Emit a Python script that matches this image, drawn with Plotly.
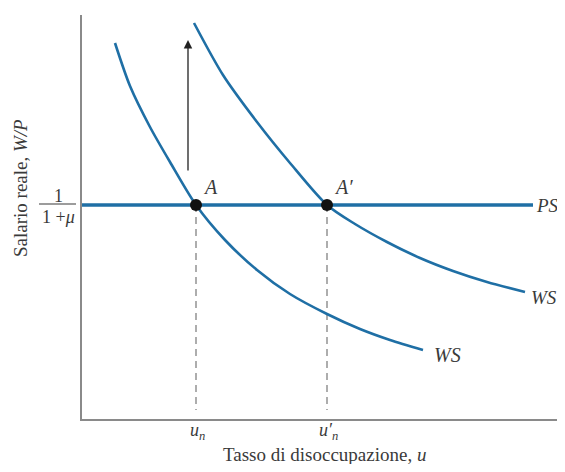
import plotly.graph_objects as go

# Data (arbitrary units: u on x, W/P on y)
ws1_u = [3.3, 4.8, 6.8, 8.8, 11.4, 14.3, 17.5, 20.8, 24.5, 27.8, 30.8, 34.1]
ws1_w = [37.6, 33.3, 29.2, 25.7, 21.4, 17.9, 14.9, 12.5, 10.5, 9.0, 7.9, 6.9]
ws2_u = [11.2, 14.1, 17.5, 20.8, 24.5, 27.3, 30.5, 33.8, 37.1, 40.5, 44.3]
ws2_w = [39.6, 34.4, 29.7, 25.6, 21.4, 19.5, 17.7, 16.1, 14.8, 13.7, 12.7]
ps_u = [0.0, 45.1]
ps_level = 21.4
eq_u = [11.4, 24.5]
eq_labels = ["A", "A′"]
tick_labels = ["<i>u<sub>n</sub></i>", "<i>u′<sub>n</sub></i>"]
arrow_u = 10.6
arrow_w = [24.7, 37.9]

XMAX, YMAX = 47.5, 40.4
BLUE = "#1f6fa5"
TXT = "#3a3a3a"
SERIF = "Liberation Serif, DejaVu Serif, serif"

fig = go.Figure()
for u in eq_u:
    fig.add_trace(go.Scatter(x=[u, u], y=[ps_level, 0.9], mode="lines",
                             line=dict(color="#777777", width=1.2, dash="7px,5px"),
                             hoverinfo="skip", showlegend=False))
fig.add_trace(go.Scatter(x=ps_u, y=[ps_level, ps_level], mode="lines",
                         line=dict(color=BLUE, width=3.5), showlegend=False))
fig.add_trace(go.Scatter(x=ws1_u, y=ws1_w, mode="lines", line_shape="spline",
                         line=dict(color=BLUE, width=2.6, smoothing=0.8), showlegend=False))
fig.add_trace(go.Scatter(x=ws2_u, y=ws2_w, mode="lines", line_shape="spline",
                         line=dict(color=BLUE, width=2.6, smoothing=0.8), showlegend=False))
fig.add_trace(go.Scatter(x=eq_u, y=[ps_level] * 2, mode="markers",
                         marker=dict(color="#111111", size=12), showlegend=False))

def txt(size):
    return dict(family=SERIF, size=size, color=TXT)

ann = []
for u, lab, dx in zip(eq_u, eq_labels, [14, 16]):
    ann.append(dict(x=u, y=ps_level, text=f"<i>{lab}</i>", showarrow=False,
                    xanchor="center", yanchor="middle", xshift=dx, yshift=18,
                    font=txt(20)))
for u, lab in zip(eq_u, tick_labels):
    ann.append(dict(x=u, y=0, text=lab, showarrow=False, xanchor="center",
                    yanchor="middle", xshift=1, yshift=-12, font=txt(18)))
ann.append(dict(x=arrow_u, y=arrow_w[1], ax=arrow_u, ay=arrow_w[0],
                xref="x", yref="y", axref="x", ayref="y", text="",
                showarrow=True, arrowhead=2, arrowsize=1.3, arrowwidth=1.3,
                arrowcolor="#222222"))
ann.append(dict(x=ps_u[1], y=ps_level, text="<i>PS</i>", showarrow=False,
                xanchor="left", yanchor="middle", xshift=1, font=txt(19)))
ann.append(dict(x=ws2_u[-1], y=ws2_w[-1], text="<i>WS</i>", showarrow=False,
                xanchor="left", yanchor="middle", xshift=4, yshift=-5, font=txt(19)))
ann.append(dict(x=ws1_u[-1], y=ws1_w[-1], text="<i>WS</i>", showarrow=False,
                xanchor="left", yanchor="middle", xshift=9, yshift=-5, font=txt(20)))
ann.append(dict(x=0, y=ps_level, text="1", showarrow=False,
                xanchor="center", yanchor="middle", xshift=-24, yshift=9, font=txt(18)))
ann.append(dict(x=0, y=ps_level, text="1 +<i>μ</i>", showarrow=False,
                xanchor="center", yanchor="middle", xshift=-24, yshift=-12, font=txt(18)))
ann.append(dict(x=24.2, y=0, text="Tasso di disoccupazione, <i>u</i>", showarrow=False,
                xanchor="center", yanchor="middle", yshift=-35, font=txt(19)))
ann.append(dict(x=0, y=23.1, text="Salario reale, <i>W/P</i>",
                showarrow=False, textangle=-90, xanchor="center", yanchor="middle",
                xshift=-62, font=txt(19)))

fig.update_layout(
    width=557, height=456,
    margin=dict(l=74, r=8, t=7, b=45),
    paper_bgcolor="white", plot_bgcolor="white",
    annotations=ann,
    shapes=[dict(type="line", xref="paper", yref="y", x0=-43 / 475, x1=-6 / 475,
                 y0=ps_level + 0.1, y1=ps_level + 0.1, line=dict(color=TXT, width=1.2))],
    xaxis=dict(range=[0, XMAX], showgrid=False, zeroline=False, showline=True,
               linecolor="#8a8a8a", linewidth=1.6, ticks="", showticklabels=False),
    yaxis=dict(range=[0, YMAX], showgrid=False, zeroline=False, showline=True,
               linecolor="#8a8a8a", linewidth=1.6, ticks="", showticklabels=False),
)
fig.write_html("out.html")
